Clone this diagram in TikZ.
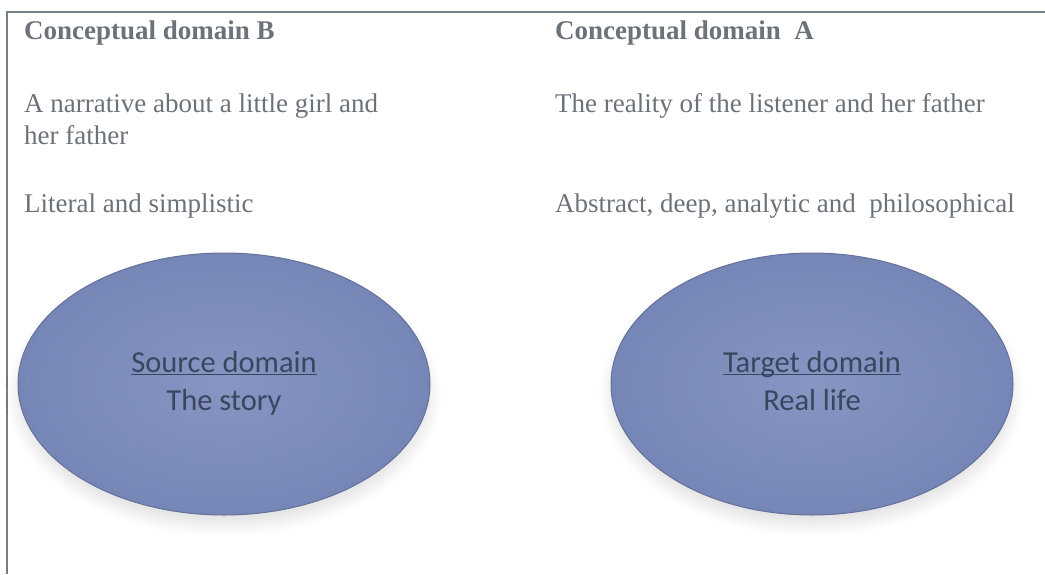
\documentclass[tikz,border=0pt]{standalone}
\usepackage{fontspec}
\setmainfont{Liberation Serif}
\newfontfamily\calibrifont{Carlito}
\usetikzlibrary{shapes.geometric,shadows.blur}
\definecolor{inkgray}{RGB}{108,114,121}
\definecolor{rulegray}{RGB}{120,126,134}
\definecolor{domainblue}{RGB}{118,134,182}
\definecolor{domainlight}{RGB}{134,149,194}
\definecolor{domainedge}{RGB}{100,113,152}
\definecolor{domaintext}{RGB}{58,70,96}
\newcommand{\domainname}[1]{\strut\underline{\smash{#1}}}
\tikzset{
  coltext/.style={anchor=base west, inner sep=0pt, text=inkgray, align=left,
    font=\fontsize{27}{32}\selectfont},
  colhead/.style={coltext, font=\fontsize{27}{32}\selectfont\bfseries},
  domainoval/.style={shape=ellipse, draw=domainedge, line width=1pt,
    inner color=domainlight, outer color=domainblue,
    text=domaintext, align=center, font=\calibrifont\fontsize{30.5}{38}\selectfont,
    blur shadow={shadow xshift=0pt, shadow yshift=-10pt, shadow opacity=12,
      shadow blur radius=12pt, shadow blur steps=12}},
}
\begin{document}
\begin{tikzpicture}[x=1pt,y=-1pt]
\useasboundingbox (0,0) rectangle (1045,574);
\coordinate (tl) at (7,12);
\coordinate (tr) at (1045,12);
\coordinate (bl) at (7,574);
\draw[rulegray, line width=1.5pt] (tr) -- (tl) -- (bl);

\node[colhead] (headB) at (24,39) {Conceptual domain B};
\node[colhead] (headA) at (555,39) {Conceptual domain\ \ A};
\node[coltext] (storyB) at (24,144) {A narrative about a little girl and\\her father};
\node[coltext] (storyA) at (555,112) {The reality of the listener and her father};
\node[coltext] (toneB) at (24,212) {Literal and simplistic};
\node[coltext] (toneA) at (555,212) {Abstract, deep, analytic and\ \ philosophical};

\node[domainoval, minimum width=412pt, minimum height=262pt] (source) at (224,384) {\domainname{Source domain}\\The story\strut};
\node[domainoval, minimum width=402pt, minimum height=262pt] (target) at (812,384) {\domainname{Target domain}\\Real life\strut};
\end{tikzpicture}
\end{document}
